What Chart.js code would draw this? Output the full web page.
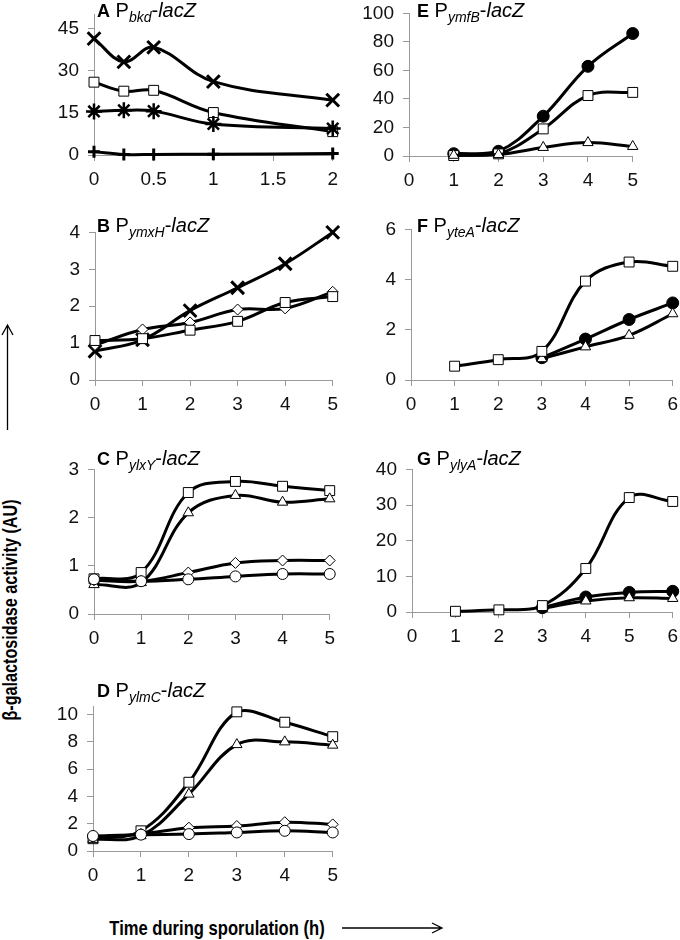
<!DOCTYPE html>
<html>
<head>
<meta charset="utf-8">
<script src="https://cdn.jsdelivr.net/npm/chart.js@4.4.1/dist/chart.umd.min.js"></script>
<style>
  html, body { margin: 0; padding: 0; background: #fff; overflow: hidden; }
  #fig { position: relative; width: 680px; height: 940px; }
  canvas { position: absolute; }
  .ttl { position: absolute; font: 20px "Liberation Sans", Arial, sans-serif; line-height: 20px; white-space: nowrap; color: #000; }
  .ttl b { font-size: 18px; }
  .ttl .sub { font-style: italic; font-size: 14px; position: relative; top: 5px; }
  .axlab { position: absolute; font: bold 21px "Liberation Sans", Arial, sans-serif; white-space: nowrap; text-align: center; line-height: 22px; width: 400px; }
  svg { position: absolute; left: 0; top: 0; }
</style>
</head>
<body>
<div id="fig">
  <canvas id="pA"></canvas>
  <canvas id="pB"></canvas>
  <canvas id="pC"></canvas>
  <canvas id="pD"></canvas>
  <canvas id="pE"></canvas>
  <canvas id="pF"></canvas>
  <canvas id="pG"></canvas>

  <div class="ttl" style="left:97px;top:0px"><b>A</b> P<span class="sub">bkd</span>-<i>lacZ</i></div>
  <div class="ttl" style="left:97px;top:215px"><b>B</b> P<span class="sub">ymxH</span>-<i>lacZ</i></div>
  <div class="ttl" style="left:97px;top:448px"><b>C</b> P<span class="sub">ylxY</span>-<i>lacZ</i></div>
  <div class="ttl" style="left:97px;top:680px"><b>D</b> P<span class="sub">ylmC</span>-<i>lacZ</i></div>
  <div class="ttl" style="left:417px;top:0px"><b>E</b> P<span class="sub">ymfB</span>-<i>lacZ</i></div>
  <div class="ttl" style="left:417px;top:215px"><b>F</b> P<span class="sub">yteA</span>-<i>lacZ</i></div>
  <div class="ttl" style="left:417px;top:448px"><b>G</b> P<span class="sub">ylyA</span>-<i>lacZ</i></div>

  <div class="axlab" style="left:-190px;top:599px;transform:rotate(-90deg) scaleX(0.77)">β-galactosidase activity (AU)</div>
  <div class="axlab" style="left:17px;top:917px;transform:scaleX(0.79)">Time during sporulation (h)</div>

  <svg width="680" height="940">
    <g stroke="#000" stroke-width="1.3" fill="none">
      <path d="M7.5 430 L7.5 325 M2 335 L7.5 325 L13 335"/>
      <path d="M342 928 L442 928 M432 923 L442 928 L432 933"/>
    </g>
  </svg>
</div>

<script>
// ---- data ----
const xA = [0, 0.25, 0.5, 1, 2];
const aCross = [41.4, 33.1, 38.3, 26.1, 19.5];
const aSquare = [25.9, 22.7, 23.0, 15.1, 8.3];
const aStar = [15.5, 15.9, 15.6, 11.0, 9.4];
const aPlus = [1.2, 0.2, 0.2, 0.3, 0.5];

const xB = [0, 1, 2, 3, 4, 5];
const bCross = [0.78, 1.09, 1.88, 2.5, 3.15, 4.0];
const bDiamond = [0.95, 1.37, 1.56, 1.91, 1.94, 2.39];
const bSquare = [1.07, 1.12, 1.35, 1.59, 2.10, 2.26];

const xC = [0, 1, 2, 3, 4, 5];
const cSquare = [0.73, 0.86, 2.52, 2.75, 2.65, 2.56];
const cTriangle = [0.61, 0.65, 2.10, 2.46, 2.32, 2.39];
const cDiamond = [0.70, 0.68, 0.86, 1.06, 1.11, 1.11];
const cCircle = [0.72, 0.68, 0.72, 0.78, 0.83, 0.83];

const xD = [0, 1, 2, 3, 4, 5];
const dSquare = [0.9, 1.48, 5.04, 10.2, 9.44, 8.38];
const dTriangle = [0.85, 1.12, 4.17, 7.8, 8.0, 7.76];
const dDiamond = [1.0, 1.25, 1.71, 1.83, 2.11, 1.95];
const dCircle = [1.1, 1.2, 1.24, 1.36, 1.48, 1.36];

const xE = [1, 2, 3, 4, 5];
const eCircle = [1.6, 3.3, 27.9, 62.9, 85.9];
const eSquare = [0.3, 1.5, 19, 42.4, 44.6];
const eTriangle = [0.5, 1.0, 6, 9.4, 6.7];

const xF = [1, 2, 3, 4, 5, 6];
const fSquare = [0.55, 0.81, 1.14, 3.94, 4.70, 4.53];
const fCircle = [null, null, 0.89, 1.63, 2.41, 3.07];
const fTriangle = [null, null, 0.85, 1.32, 1.78, 2.64];

const xG = [1, 2, 3, 4, 5, 6];
const gSquare = [0.2, 0.6, 1.8, 12.2, 32.1, 31.0];
const gCircle = [null, null, 1.2, 4.2, 5.5, 5.8];
const gTriangle = [null, null, 1.0, 3.1, 4.0, 3.8];

// ---- styling ----
const YW = 60, XH = 40, PT = 14, PR = 12;
const tickFont = { family: '"Liberation Sans", Arial, sans-serif', size: 19 };
const axisGrey = '#999';

const open = { pointBackgroundColor: '#fff', pointBorderColor: '#000', pointBorderWidth: 1 };
const mk = {
  square: { pointStyle: 'rect', pointRadius: 7, ...open },
  triangle: { pointStyle: 'triangle', pointRadius: 6, ...open },
  diamond: { pointStyle: 'rectRot', pointRadius: 5.5, ...open },
  circle: { pointStyle: 'circle', pointRadius: 5.5, ...open },
  dot: { pointStyle: 'circle', pointRadius: 6, pointBackgroundColor: '#000', pointBorderColor: '#000', pointBorderWidth: 1 },
  cross: { pointStyle: 'crossRot', pointRadius: 9, pointBorderColor: '#000', pointBorderWidth: 3 },
  star: { pointStyle: 'star', pointRadius: 8, pointBorderColor: '#000', pointBorderWidth: 2.5 },
  plus: { pointStyle: 'cross', pointRadius: 6, pointBorderColor: '#000', pointBorderWidth: 3 }
};

function series(xs, ys, style) {
  return {
    data: xs.map((x, i) => ({ x: x, y: ys[i] })),
    borderColor: '#000',
    borderWidth: 3,
    tension: 0.38,
    fill: false,
    clip: false,
    ...mk[style]
  };
}

function panel(id, box, xr, yr, datasets) {
  const cv = document.getElementById(id);
  const left = box.l - YW, top = box.t - PT;
  const w = Math.round(box.r + PR - left), h = Math.round(box.b + XH - top);
  cv.style.left = left + 'px';
  cv.style.top = top + 'px';
  cv.width = w; cv.height = h;
  cv.style.width = w + 'px'; cv.style.height = h + 'px';

  new Chart(cv, {
    type: 'line',
    data: { datasets: datasets },
    options: {
      responsive: false,
      animation: false,
      devicePixelRatio: 1,
      layout: { padding: { top: PT, right: PR, left: 0, bottom: 0 } },
      plugins: { legend: { display: false }, tooltip: { enabled: false } },
      scales: {
        x: {
          type: 'linear', min: xr[0], max: xr[1],
          ticks: { stepSize: xr[2], font: tickFont, color: '#111', padding: 7, maxRotation: 0, autoSkip: false, includeBounds: false,
                   callback: v => String(v) },
          grid: { drawOnChartArea: false, tickLength: 6, color: axisGrey },
          border: { color: axisGrey },
          afterFit: s => { s.height = XH; }
        },
        y: {
          min: 0, max: yr[0],
          ticks: { stepSize: yr[1], font: tickFont, color: '#111', padding: 9, includeBounds: false },
          grid: { drawOnChartArea: false, tickLength: 6, color: axisGrey },
          border: { color: axisGrey },
          afterFit: s => { s.width = YW; }
        }
      }
    }
  });
}

panel('pA', { l: 94, r: 333, t: 8, b: 155 }, [0, 2, 0.5], [50, 15], [
  series(xA, aPlus, 'plus'),
  series(xA, aStar, 'star'),
  series(xA, aSquare, 'square'),
  series(xA, aCross, 'cross')
]);
panel('pB', { l: 95, r: 333, t: 225.7, b: 379.3 }, [0, 5, 1], [4, 1], [
  series(xB, bSquare, 'square'),
  series(xB, bDiamond, 'diamond'),
  series(xB, bCross, 'cross')
]);
panel('pC', { l: 94, r: 330, t: 462.7, b: 613.3 }, [0, 5, 1], [3, 1], [
  series(xC, cCircle, 'circle'),
  series(xC, cDiamond, 'diamond'),
  series(xC, cTriangle, 'triangle'),
  series(xC, cSquare, 'square')
]);
panel('pD', { l: 93, r: 333, t: 700, b: 851 }, [0, 5, 1], [10.6, 2], [
  series(xD, dCircle, 'circle'),
  series(xD, dDiamond, 'diamond'),
  series(xD, dTriangle, 'triangle'),
  series(xD, dSquare, 'square')
]);
panel('pE', { l: 409, r: 633, t: 7.3, b: 156.7 }, [0, 5, 1], [100, 20], [
  series(xE, eTriangle, 'triangle'),
  series(xE, eSquare, 'square'),
  series(xE, eCircle, 'dot')
]);
panel('pF', { l: 411, r: 673, t: 223, b: 380 }, [0, 6, 1], [6, 2], [
  series(xF, fSquare, 'square'),
  series(xF, fTriangle, 'triangle'),
  series(xF, fCircle, 'dot')
]);
panel('pG', { l: 412, r: 673, t: 463.3, b: 612.3 }, [0, 6, 1], [40, 10], [
  series(xG, gSquare, 'square'),
  series(xG, gTriangle, 'triangle'),
  series(xG, gCircle, 'dot')
]);
</script>
</body>
</html>
